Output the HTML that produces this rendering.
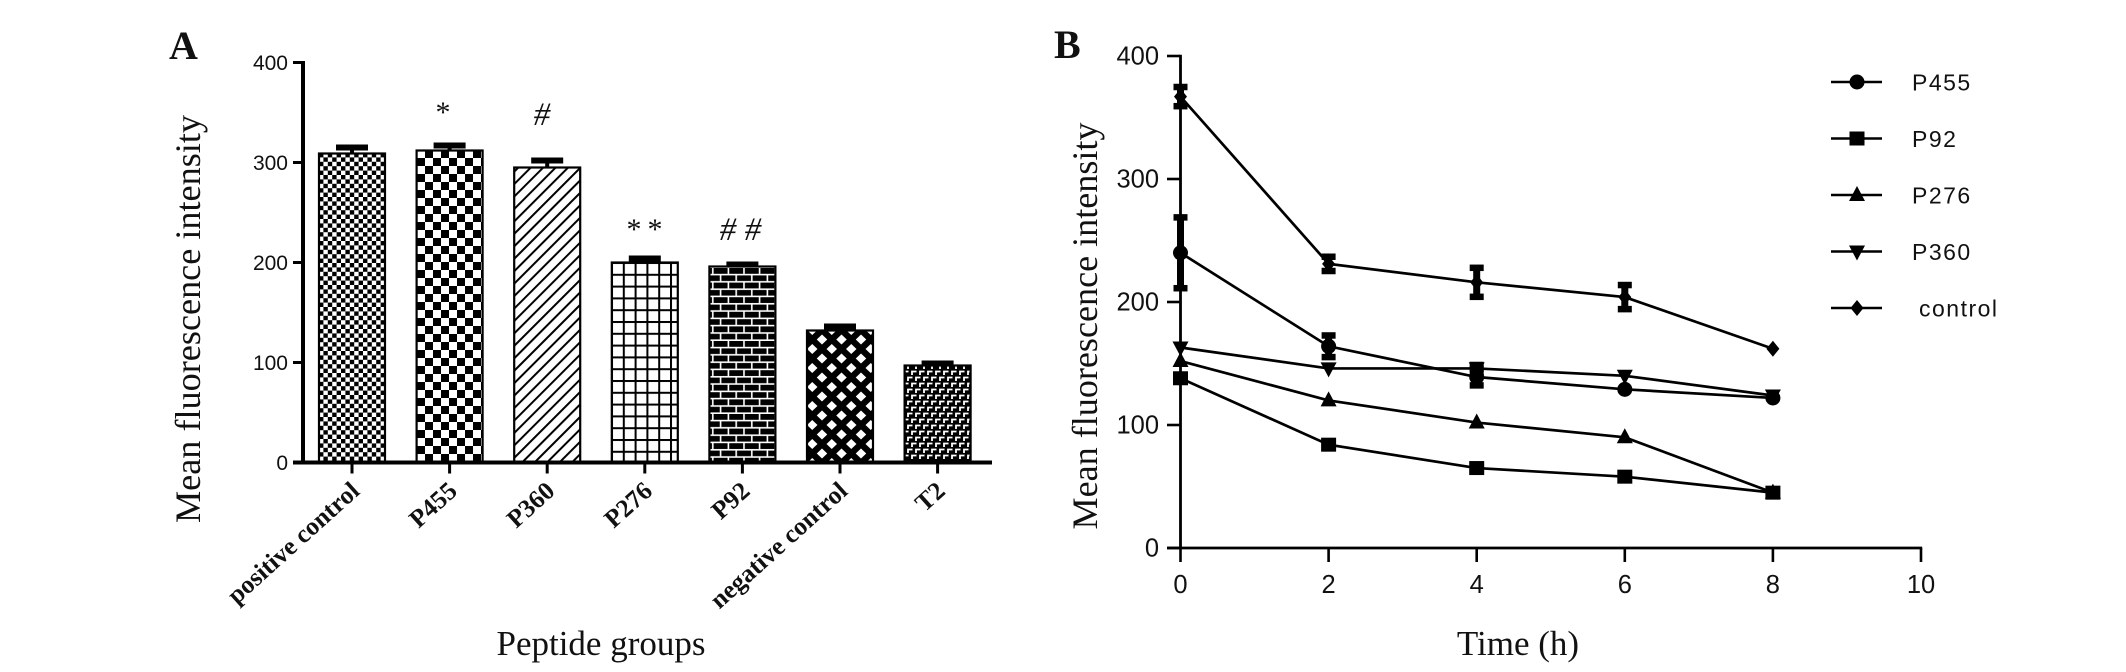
<!DOCTYPE html>
<html lang="en">
<head>
<meta charset="utf-8">
<title>Mean fluorescence intensity charts</title>
<style>
html,body{margin:0;padding:0;background:#fff;width:2126px;height:672px;overflow:hidden}
svg{display:block}
.serif{font-family:"Liberation Serif",serif;fill:#111}
.sans{font-family:"Liberation Sans",sans-serif;fill:#111}
</style>
</head>
<body>
<svg id="fig" xmlns="http://www.w3.org/2000/svg" width="2126" height="672" viewBox="0 0 2126 672">
<defs>
<pattern id="p-fine" patternUnits="userSpaceOnUse" x="319" y="153" width="8.8" height="8.8"><rect width="8.8" height="8.8" fill="#fff"/><rect width="4.4" height="4.4" fill="#000"/><rect x="4.4" y="4.4" width="4.4" height="4.4" fill="#000"/></pattern>
<pattern id="p-check" patternUnits="userSpaceOnUse" x="417" y="150" width="16" height="16"><rect width="16" height="16" fill="#fff"/><rect x="8" width="8" height="8" fill="#000"/><rect y="8" width="8" height="8" fill="#000"/></pattern>
<pattern id="p-diag" patternUnits="userSpaceOnUse" width="8.8" height="8.8" patternTransform="rotate(45)"><rect width="8.8" height="8.8" fill="#fff"/><rect width="2" height="8.8" fill="#000"/></pattern>
<pattern id="p-grid" patternUnits="userSpaceOnUse" x="611" y="262" width="11.8" height="11.8"><rect width="11.8" height="11.8" fill="#fff"/><rect width="2" height="11.8" fill="#000"/><rect width="11.8" height="2" fill="#000"/></pattern>
<pattern id="p-brick" patternUnits="userSpaceOnUse" x="709" y="268" width="15.6" height="14.6"><rect width="15.6" height="14.6" fill="#000"/><rect y="5.8" width="15.6" height="1.6" fill="#fff"/><rect y="13" width="15.6" height="1.6" fill="#fff"/><rect x="3" width="1.6" height="5.8" fill="#fff"/><rect x="10.8" y="7.3" width="1.6" height="5.8" fill="#fff"/></pattern>
<pattern id="p-diamond" patternUnits="userSpaceOnUse" x="802.5" y="330" width="19.5" height="19"><rect width="19.5" height="19" fill="#000"/><polygon points="9.75,-5 15,0 9.75,5 4.5,0" fill="#fff"/><polygon points="9.75,14 15,19 9.75,24 4.5,19" fill="#fff"/><polygon points="0,4.5 5.25,9.5 0,14.5 -5.25,9.5" fill="#fff"/><polygon points="19.5,4.5 24.75,9.5 19.5,14.5 14.25,9.5" fill="#fff"/></pattern>
<pattern id="p-ell" patternUnits="userSpaceOnUse" x="907" y="364" width="16" height="12"><rect width="16" height="12" fill="#000"/><path d="M1 5V1.5H5.5M9 5V1.5H13.5M5 11V7.5H9.5M13 11V7.5H17.5M-3 11V7.5H1.5" fill="none" stroke="#fff" stroke-width="1.8"/></pattern>
</defs>

<text class="serif" x="169" y="59" font-size="40" font-weight="bold" fill="#000">A</text>
<text class="serif" x="1054" y="58" font-size="40" font-weight="bold" fill="#000">B</text>

<text class="serif" font-size="36" text-anchor="middle" textLength="408" lengthAdjust="spacingAndGlyphs" transform="translate(200 319) rotate(-90)">Mean fluorescence intensity</text>
<text class="serif" font-size="35" text-anchor="middle" x="601" y="655">Peptide groups</text>
<text class="serif" font-size="36" text-anchor="middle" textLength="407" lengthAdjust="spacingAndGlyphs" transform="translate(1097 326) rotate(-90)">Mean fluorescence intensity</text>
<text class="serif" font-size="35" text-anchor="middle" x="1518" y="655">Time (h)</text>

<text class="serif" font-size="30" text-anchor="middle" x="443" y="122">*</text>
<text class="serif" font-style="italic" font-size="33" text-anchor="middle" x="542" y="125">#</text>
<text class="serif" font-size="30" text-anchor="middle" x="634" y="239">*</text>
<text class="serif" font-size="30" text-anchor="middle" x="655" y="239">*</text>
<text class="serif" font-style="italic" font-size="33" text-anchor="middle" x="728" y="240">#</text>
<text class="serif" font-style="italic" font-size="33" text-anchor="middle" x="753" y="240">#</text>

<g id="barChart"></g>
<g id="lineChart"></g>
<g id="legend"></g>
</svg>

<script>
// Panel A data
const barCategories = ['positive control', 'P455', 'P360', 'P276', 'P92', 'negative control', 'T2'];
const barValues = [309, 312, 295, 200, 196, 132, 97];
const barErrors = [6, 5, 7, 4, 2, 4, 2];
const barPatterns = ['p-fine', 'p-check', 'p-diag', 'p-grid', 'p-brick', 'p-diamond', 'p-ell'];
const barTicks = [0, 100, 200, 300, 400];

// Panel B data
const timePoints = [0, 2, 4, 6, 8];
const lineTicksY = [0, 100, 200, 300, 400];
const lineTicksX = [0, 2, 4, 6, 8, 10];
const seriesNames = ['P455', 'P92', 'P276', 'P360', 'control'];
const seriesMarkers = ['circle', 'square', 'up', 'down', 'diamond'];
const p455Values = [240, 164, 139, 129, 122];
const p92Values = [138, 84, 65, 58, 45];
const p276Values = [152, 120, 102, 90, 45];
const p360Values = [163, 146, 146, 140, 124];
const controlValues = [367, 231, 216, 204, 162];
const p455Errors = [29, 9, 7, 0, 0];
const p92Errors = [0, 0, 0, 0, 0];
const p276Errors = [0, 0, 0, 0, 0];
const p360Errors = [0, 0, 3, 0, 0];
const controlErrors = [8, 6, 12, 10, 0];

const NS = 'http://www.w3.org/2000/svg';
function mk(parent, tag, attrs, text) {
  const el = document.createElementNS(NS, tag);
  for (const k in attrs) el.setAttribute(k, attrs[k]);
  if (text !== undefined) el.textContent = text;
  parent.appendChild(el);
  return el;
}

// Panel A axes
const barY = v => 462.5 - v * 1.0;
const barX = i => 352 + i * 97.6;
const barG = document.getElementById('barChart');

barCategories.forEach((c, i) => {
  const w = 66, x = barX(i) - w / 2;
  const top = barY(barValues[i]);
  const errTop = barY(barValues[i] + barErrors[i]);
  const stem = mk(barG, 'rect', { x: barX(i) - 2, y: errTop, width: 4, height: top - errTop, fill: '#000' });
  
  
  const cap = mk(barG, 'rect', { x: barX(i) - 16, y: errTop - 3, width: 32, height: 6, fill: '#000' });
  
  
  const bar = mk(barG, 'rect', { x: x, y: top, width: w, height: barY(0) - top, fill: 'url(#' + barPatterns[i] + ')', stroke: '#000', 'stroke-width': 2.2 });
  
  
  const tick = mk(barG, 'line', { x1: barX(i), x2: barX(i), y1: barY(0), y2: barY(0) + 11, stroke: '#000', 'stroke-width': 3 });
  
  
  const label = mk(barG, 'text', { class: 'serif', 'font-size': 25.5, 'font-weight': 'bold', 'text-anchor': 'end', transform: 'translate(' + (barX(i) + 9) + ' 493) rotate(-42)' }, c);
  
  
});

const barAxisY = mk(barG, 'line', { x1: 303, x2: 303, y1: barY(400) - 1.5, y2: barY(0), stroke: '#000', 'stroke-width': 4 });


const barAxisX = mk(barG, 'line', { x1: 293, x2: 992, y1: barY(0), y2: barY(0), stroke: '#000', 'stroke-width': 4 });



barTicks.forEach(t => {
  const tick = mk(barG, 'line', { x1: 293, x2: 303, y1: barY(t), y2: barY(t), stroke: '#000', 'stroke-width': 3 });
  
  
  const label = mk(barG, 'text', { class: 'sans', 'font-size': 21, 'text-anchor': 'end', x: 288, y: barY(t) + 7.5 }, String(t));
  
  
});

// Panel B axes
const lineX = t => 1180.5 + t * 74.05;
const lineY = v => 548 - v * 1.23;
const lineG = document.getElementById('lineChart');
const allValues = [p455Values, p92Values, p276Values, p360Values, controlValues];
const allErrors = [p455Errors, p92Errors, p276Errors, p360Errors, controlErrors];

function drawMarker(parent, kind, x, y) {
  let el;
  if (kind === 'circle') el = mk(parent, 'circle', { cx: x, cy: y, r: 7.5, fill: '#000' });
  else if (kind === 'square') el = mk(parent, 'rect', { x: x - 7.5, y: y - 7, width: 15, height: 14, fill: '#000' });
  else if (kind === 'up') el = mk(parent, 'polygon', { points: (x) + ',' + (y - 9) + ' ' + (x + 8) + ',' + (y + 6) + ' ' + (x - 8) + ',' + (y + 6), fill: '#000' });
  else if (kind === 'down') el = mk(parent, 'polygon', { points: (x) + ',' + (y + 9) + ' ' + (x + 8) + ',' + (y - 6) + ' ' + (x - 8) + ',' + (y - 6), fill: '#000' });
  else el = mk(parent, 'polygon', { points: (x) + ',' + (y - 8) + ' ' + (x + 6.5) + ',' + y + ' ' + (x) + ',' + (y + 8) + ' ' + (x - 6.5) + ',' + y, fill: '#000' });
  
  
  return el;
}

const lineAxisY = mk(lineG, 'line', { x1: 1180.5, x2: 1180.5, y1: lineY(400) - 1.2, y2: lineY(0), stroke: '#000', 'stroke-width': 2.8 });


const lineAxisX = mk(lineG, 'line', { x1: 1167, x2: lineX(10) + 1.2, y1: lineY(0), y2: lineY(0), stroke: '#000', 'stroke-width': 2.8 });



lineTicksY.forEach(t => {
  const tick = mk(lineG, 'line', { x1: 1167, x2: 1180, y1: lineY(t), y2: lineY(t), stroke: '#000', 'stroke-width': 2.6 });
  
  
  const label = mk(lineG, 'text', { class: 'sans', 'font-size': 25.5, 'text-anchor': 'end', x: 1159, y: lineY(t) + 8.5 }, String(t));
  
  
});
lineTicksX.forEach(t => {
  const tick = mk(lineG, 'line', { x1: lineX(t), x2: lineX(t), y1: lineY(0), y2: lineY(0) + 14, stroke: '#000', 'stroke-width': 2.6 });
  
  
  const label = mk(lineG, 'text', { class: 'sans', 'font-size': 25.5, 'text-anchor': 'middle', x: lineX(t), y: 593 }, String(t));
  
  
});

seriesNames.forEach((name, s) => {
  const g = mk(lineG, 'g', {});
  
  
  const pts = timePoints.map((t, i) => lineX(t) + ',' + lineY(allValues[s][i])).join(' ');
  const path = mk(g, 'polyline', { points: pts, fill: 'none', stroke: '#000', 'stroke-width': 2.7 });
  
  
  timePoints.forEach((t, i) => {
    const x = lineX(t), v = allValues[s][i], e = allErrors[s][i];
    if (e > 0) {
      const hi = lineY(v + e), lo = lineY(v - e);
      const bar = mk(g, 'rect', { x: x - 3.5, y: hi, width: 7, height: lo - hi, fill: '#000' });
      
      
      const capTop = mk(g, 'rect', { x: x - 7, y: hi - 3, width: 14, height: 6.5, fill: '#000' });
      
      
      const capBottom = mk(g, 'rect', { x: x - 7, y: lo - 3.5, width: 14, height: 6.5, fill: '#000' });
      
      
    }
    drawMarker(g, seriesMarkers[s], x, lineY(v));
  });
});

// Legend
const legendG = document.getElementById('legend');
seriesNames.forEach((name, i) => {
  const y = 82 + i * 56.5;
  const row = mk(legendG, 'g', {});
  
  
  const sw = mk(row, 'line', { x1: 1831, x2: 1882, y1: y, y2: y, stroke: '#000', 'stroke-width': 2.6 });
  
  
  drawMarker(row, seriesMarkers[i], 1857, y);
  const label = mk(row, 'text', { class: 'sans', 'font-size': 23, 'letter-spacing': 1.5, x: name === 'control' ? 1919 : 1912, y: y + 8.5 }, name);
  
  
});
</script>
</body>
</html>
